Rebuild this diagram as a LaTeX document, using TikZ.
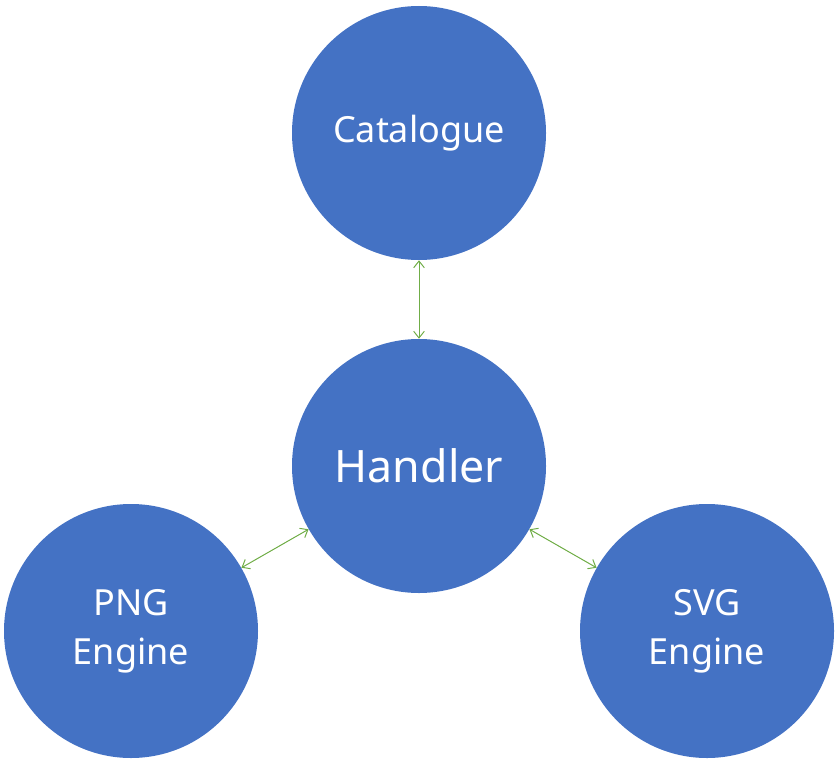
\documentclass[tikz,border=0pt]{standalone}
\usepackage{fontspec}
\setmainfont{Noto Sans}
\usetikzlibrary{arrows.meta}
\definecolor{cblue}{HTML}{4472C4}
\definecolor{cgreen}{HTML}{70AD47}
\begin{document}
\begin{tikzpicture}[x=0.75pt,y=-0.75pt,
  ball/.style={circle,fill=cblue,draw=none,minimum size=190.5pt,inner sep=0pt,text=white,align=center,font=\fontsize{27}{37}\selectfont},
  link/.style={draw=cgreen,line width=0.75pt,{Straight Barb[length=5pt,width=8pt]}-{Straight Barb[length=5pt,width=8pt]}}]
\useasboundingbox (0,0) rectangle (838,770);
\node[ball] (cat) at (419,133) {Catalogue};
\node[ball,font=\fontsize{33.5}{38}\selectfont] (hand) at (419,466) {Handler};
\node[ball] (png) at (131,631) {PNG\\Engine};
\node[ball] (svg) at (707,631) {SVG\\Engine};
\draw[link] (cat) -- (hand);
\draw[link] (hand) -- (png);
\draw[link] (hand) -- (svg);
\end{tikzpicture}
\end{document}
